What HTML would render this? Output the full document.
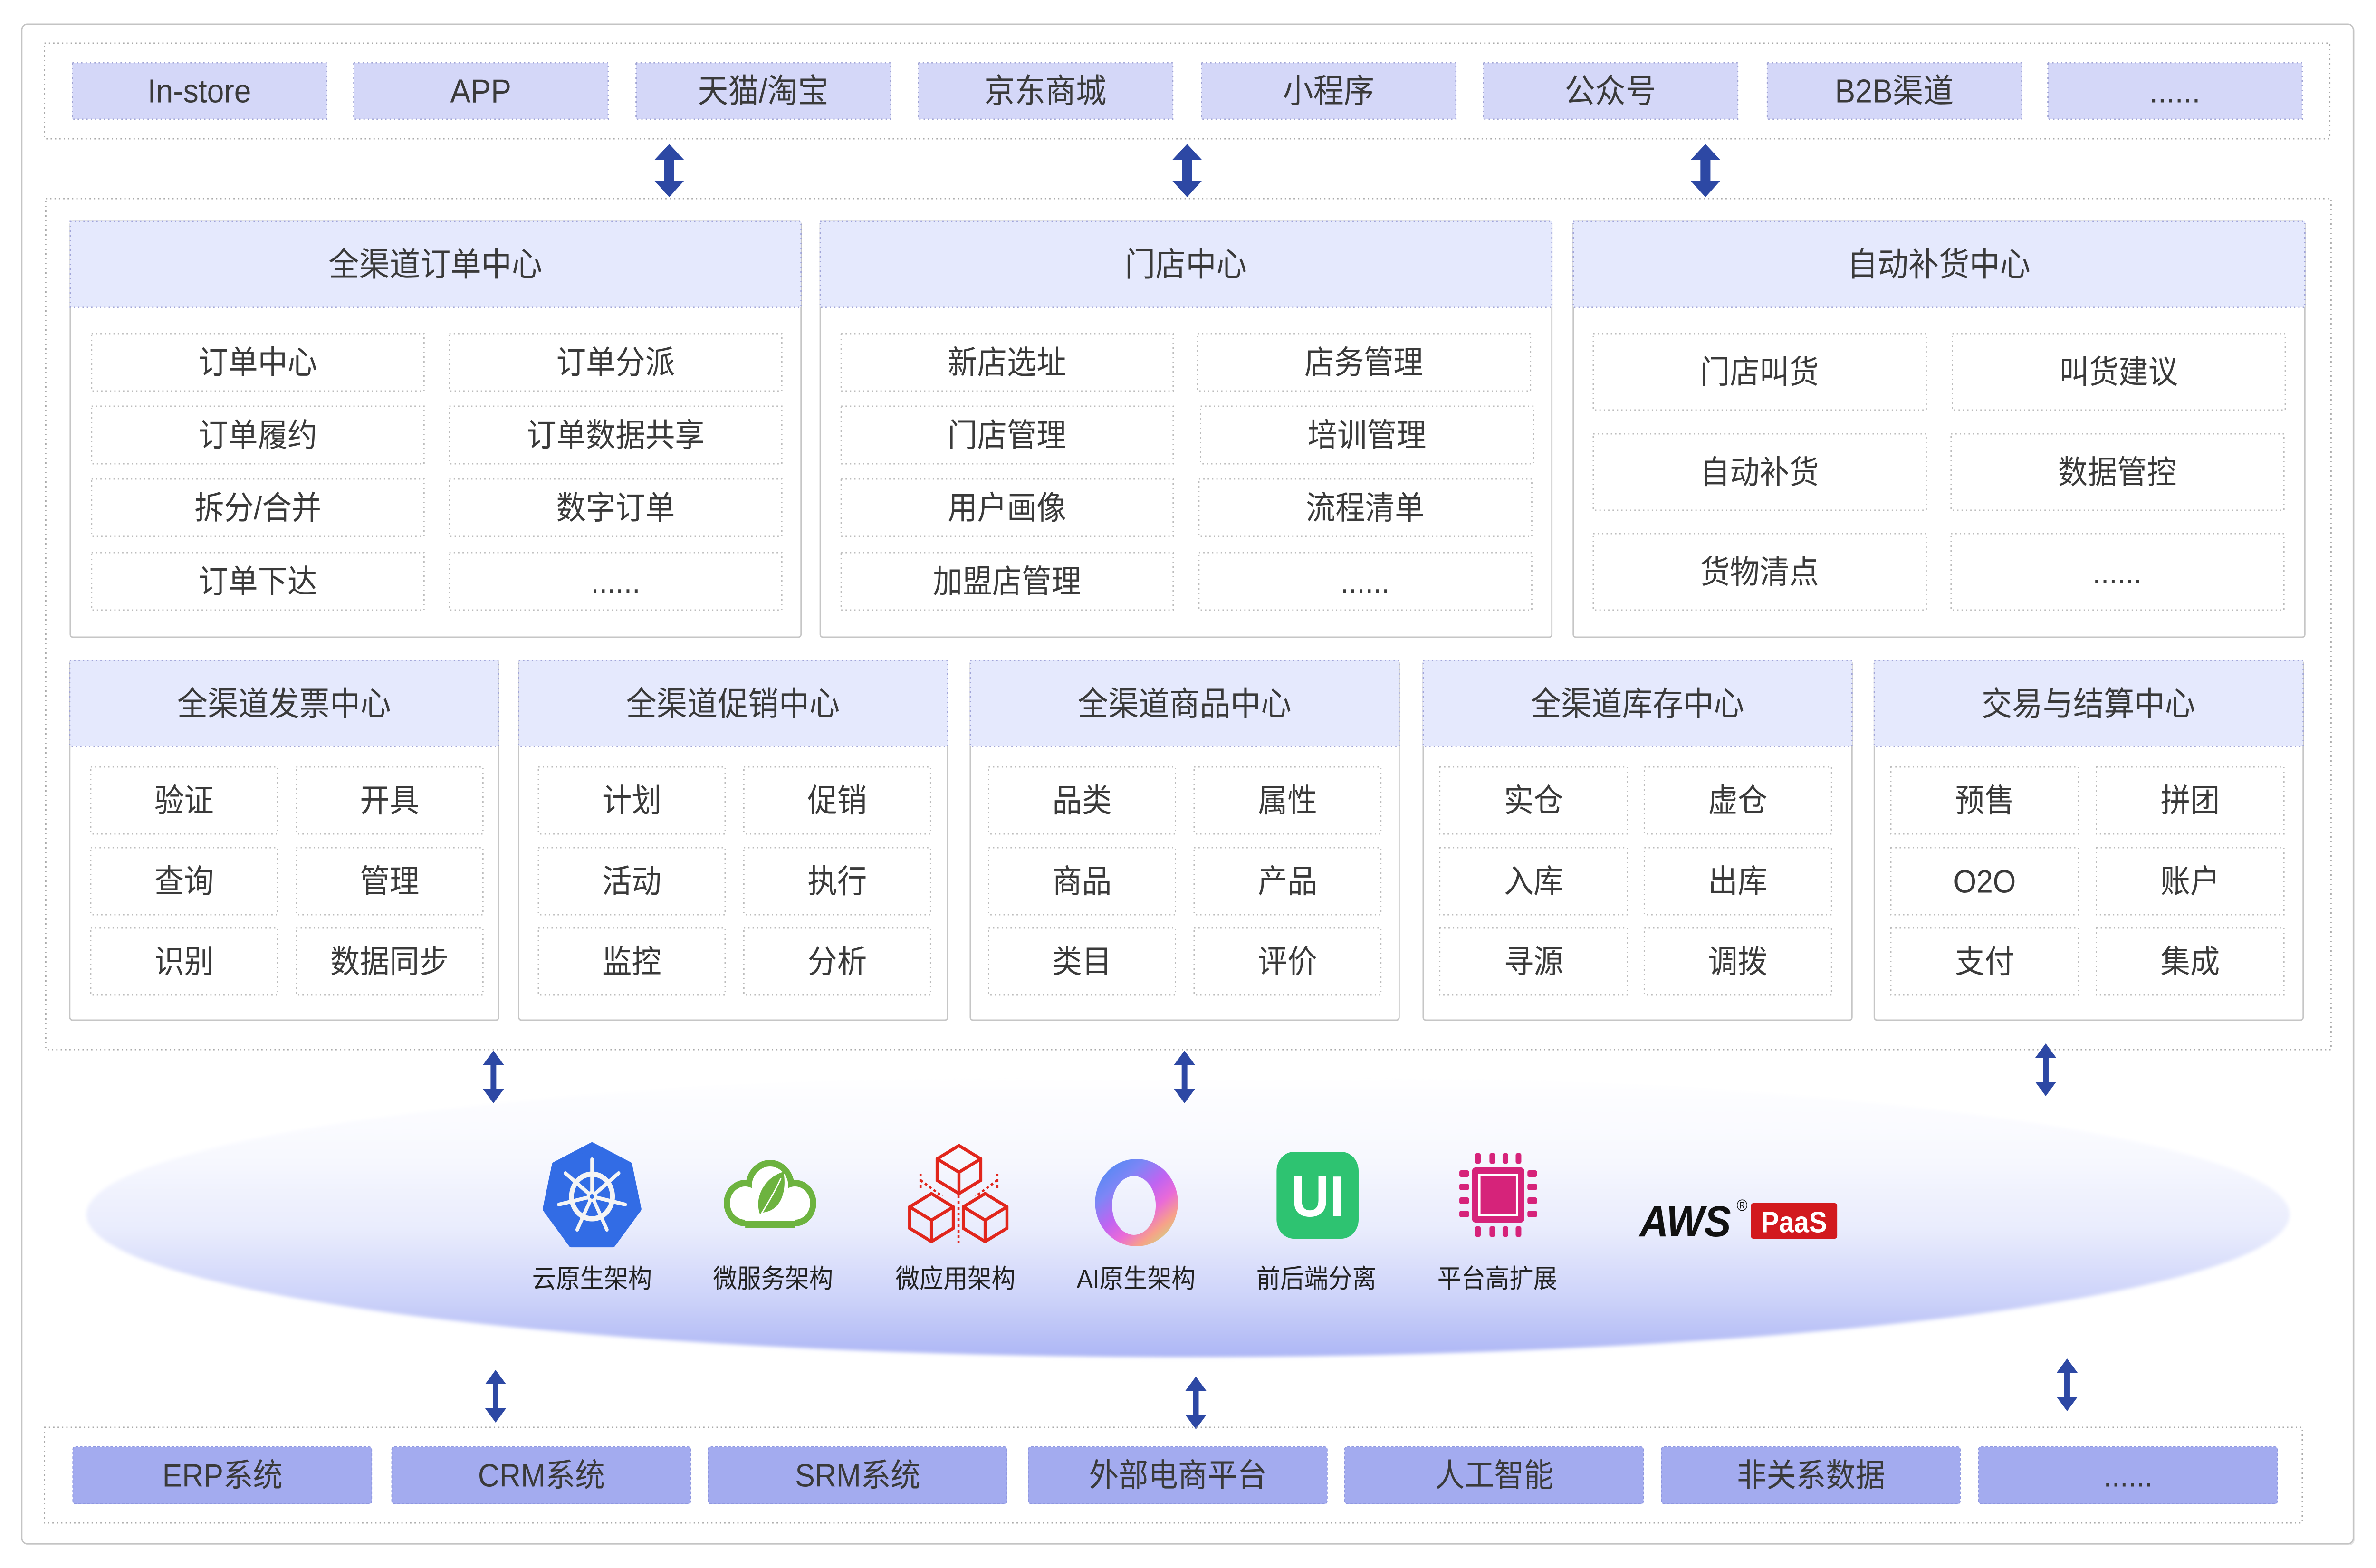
<!DOCTYPE html>
<html><head><meta charset="utf-8"><style>
html,body{margin:0;padding:0;background:#fff;width:100%;height:100%;overflow:hidden;}
svg{display:block;width:100vw;height:100vh;}
.t{font-family:"Liberation Sans","Noto Sans CJK SC",sans-serif;fill:#3a3a3a;text-anchor:middle;dominant-baseline:central;}
.h{font-size:70px;}
.i{font-size:68px;}
.c{font-size:70px;}
.b{font-size:68px;}
.l{font-size:55px;fill:#222;}
.cont{fill:none;stroke:#a9a9a9;stroke-width:3;stroke-dasharray:3 7;}
.chan{fill:#d4d7f8;stroke:#9fa3d3;stroke-width:3;stroke-dasharray:3 7;}
.hdr{fill:#e5e9fd;stroke:#a1a5d8;stroke-width:3;stroke-dasharray:3 7;}
.body{fill:#fff;stroke:#c6c6c6;stroke-width:3;}
.item{fill:#fff;stroke:#bcbcbc;stroke-width:3;stroke-dasharray:3 7;}
.bot{fill:#a3abef;stroke:#8f98e0;stroke-width:2;stroke-dasharray:6 4;}
.arr{fill:#2d48a4;}
</style></head><body>
<svg viewBox="0 0 5446 3300" preserveAspectRatio="none" xmlns="http://www.w3.org/2000/svg">
<defs>
<linearGradient id="eg" x1="0" y1="0" x2="0" y2="1">
<stop offset="0" stop-color="#ffffff"/>
<stop offset="0.3" stop-color="#f7f8fe"/>
<stop offset="0.55" stop-color="#e9ecfd"/>
<stop offset="0.8" stop-color="#ccd2f9"/>
<stop offset="1" stop-color="#adb6f5"/>
</linearGradient>
<filter id="soft" x="-5%" y="-20%" width="110%" height="140%"><feGaussianBlur stdDeviation="4"/></filter>
<linearGradient id="rg" x1="0.1" y1="0.05" x2="0.85" y2="0.95">
<stop offset="0" stop-color="#3b8af2"/>
<stop offset="0.3" stop-color="#7d86f6"/>
<stop offset="0.5" stop-color="#c064f1"/>
<stop offset="0.65" stop-color="#e96ad8"/>
<stop offset="0.8" stop-color="#f7a189"/>
<stop offset="1" stop-color="#b8f07e"/>
</linearGradient>
<mask id="ringm">
<rect x="2480" y="2410" width="250" height="240" fill="#000"/>
<ellipse cx="2605" cy="2531" rx="95" ry="92" fill="#fff"/>
<ellipse cx="2599" cy="2537" rx="50" ry="62" fill="#000"/>
</mask>
<path id="bigArr" d="M0,0 L33.5,33 L11.5,33 L11.5,78 L33.5,78 L0,112 L-33.5,78 L-11.5,78 L-11.5,33 L-33.5,33 Z"/>
<path id="thinArr" d="M0,0 L24,30 L6.5,30 L6.5,81 L24,81 L0,111 L-24,81 L-6.5,81 L-6.5,30 L-24,30 Z"/>
</defs>

<!-- outer frame -->
<rect x="53" y="54" width="5344" height="3198" rx="12" fill="#e6e6e6"/>
<rect x="50" y="51" width="5344" height="3198" rx="12" fill="#fff" stroke="#c4c4c4" stroke-width="3"/>

<!-- top channel container -->
<rect class="cont" x="102" y="91" width="5238" height="201"/>
<g>
<rect class="chan" x="166" y="132" width="583" height="119"/>
<rect class="chan" x="811" y="132" width="583" height="119"/>
<rect class="chan" x="1458" y="132" width="583" height="119"/>
<rect class="chan" x="2105" y="132" width="583" height="119"/>
<rect class="chan" x="2754" y="132" width="583" height="119"/>
<rect class="chan" x="3400" y="132" width="583" height="119"/>
<rect class="chan" x="4051" y="132" width="583" height="119"/>
<rect class="chan" x="4694" y="132" width="583" height="119"/>
<text class="t c" x="457" y="192">In-store</text>
<text class="t c" x="1102" y="192">APP</text>
<text class="t c" x="1749" y="192">天猫/淘宝</text>
<text class="t c" x="2396" y="192">京东商城</text>
<text class="t c" x="3045" y="192">小程序</text>
<text class="t c" x="3691" y="192">公众号</text>
<text class="t c" x="4342" y="192">B2B渠道</text>
<text class="t c" x="4985" y="192">......</text>
</g>

<!-- top arrows -->
<use href="#bigArr" class="arr" transform="translate(1534,303)"/>
<use href="#bigArr" class="arr" transform="translate(2721,303)"/>
<use href="#bigArr" class="arr" transform="translate(3909,303)"/>

<!-- main container -->
<rect class="cont" x="105" y="418" width="5238" height="1791"/>

<!-- P1 -->
<rect class="body" x="161" y="466" width="1675" height="875" rx="6"/>
<rect class="hdr" x="161" y="466" width="1675" height="181"/>
<text class="t h" x="998" y="557">全渠道订单中心</text>
<rect class="item" x="210" y="702" width="762" height="121"/>
<rect class="item" x="1030" y="702" width="762" height="121"/>
<rect class="item" x="210" y="855" width="762" height="121"/>
<rect class="item" x="1030" y="855" width="762" height="121"/>
<rect class="item" x="210" y="1008" width="762" height="121"/>
<rect class="item" x="1030" y="1008" width="762" height="121"/>
<rect class="item" x="210" y="1163" width="762" height="121"/>
<rect class="item" x="1030" y="1163" width="762" height="121"/>
<text class="t i" x="591" y="763">订单中心</text>
<text class="t i" x="1411" y="763">订单分派</text>
<text class="t i" x="591" y="916">订单履约</text>
<text class="t i" x="1411" y="916">订单数据共享</text>
<text class="t i" x="591" y="1069">拆分/合并</text>
<text class="t i" x="1411" y="1069">数字订单</text>
<text class="t i" x="591" y="1224">订单下达</text>
<text class="t i" x="1411" y="1224">......</text>

<!-- P2 -->
<rect class="body" x="1880" y="466" width="1677" height="875" rx="6"/>
<rect class="hdr" x="1880" y="466" width="1677" height="181"/>
<text class="t h" x="2718" y="557">门店中心</text>
<rect class="item" x="1928" y="702" width="761" height="121"/>
<rect class="item" x="2745" y="702" width="763" height="121"/>
<rect class="item" x="1928" y="855" width="761" height="121"/>
<rect class="item" x="2752" y="855" width="763" height="121"/>
<rect class="item" x="1928" y="1008" width="761" height="121"/>
<rect class="item" x="2748" y="1008" width="763" height="121"/>
<rect class="item" x="1928" y="1163" width="761" height="121"/>
<rect class="item" x="2748" y="1163" width="763" height="121"/>
<text class="t i" x="2308" y="763">新店选址</text>
<text class="t i" x="3126" y="763">店务管理</text>
<text class="t i" x="2308" y="916">门店管理</text>
<text class="t i" x="3133" y="916">培训管理</text>
<text class="t i" x="2308" y="1069">用户画像</text>
<text class="t i" x="3129" y="1069">流程清单</text>
<text class="t i" x="2308" y="1224">加盟店管理</text>
<text class="t i" x="3129" y="1224">......</text>

<!-- P3 -->
<rect class="body" x="3606" y="466" width="1677" height="875" rx="6"/>
<rect class="hdr" x="3606" y="466" width="1677" height="181"/>
<text class="t h" x="4444" y="557">自动补货中心</text>
<rect class="item" x="3652" y="702" width="763" height="161"/>
<rect class="item" x="4475" y="702" width="763" height="161"/>
<rect class="item" x="3652" y="913" width="763" height="161"/>
<rect class="item" x="4472" y="913" width="763" height="161"/>
<rect class="item" x="3652" y="1123" width="763" height="161"/>
<rect class="item" x="4472" y="1123" width="763" height="161"/>
<text class="t i" x="4033" y="783">门店叫货</text>
<text class="t i" x="4856" y="783">叫货建议</text>
<text class="t i" x="4033" y="994">自动补货</text>
<text class="t i" x="4853" y="994">数据管控</text>
<text class="t i" x="4033" y="1204">货物清点</text>
<text class="t i" x="4853" y="1204">......</text>

<!-- Row 2 panels -->
<g>
<rect class="body" x="160" y="1390" width="983" height="757" rx="6"/>
<rect class="hdr" x="160" y="1390" width="983" height="181"/>
<text class="t h" x="651" y="1482">全渠道发票中心</text>
<rect class="item" x="208" y="1614" width="428" height="141"/>
<rect class="item" x="679" y="1614" width="428" height="141"/>
<rect class="item" x="208" y="1784" width="428" height="141"/>
<rect class="item" x="679" y="1784" width="428" height="141"/>
<rect class="item" x="208" y="1953" width="428" height="141"/>
<rect class="item" x="679" y="1953" width="428" height="141"/>
<text class="t i" x="422" y="1685">验证</text>
<text class="t i" x="893" y="1685">开具</text>
<text class="t i" x="422" y="1855">查询</text>
<text class="t i" x="893" y="1855">管理</text>
<text class="t i" x="422" y="2024">识别</text>
<text class="t i" x="893" y="2024">数据同步</text>
</g>
<g>
<rect class="body" x="1189" y="1390" width="983" height="757" rx="6"/>
<rect class="hdr" x="1189" y="1390" width="983" height="181"/>
<text class="t h" x="1680" y="1482">全渠道促销中心</text>
<rect class="item" x="1234" y="1614" width="428" height="141"/>
<rect class="item" x="1705" y="1614" width="428" height="141"/>
<rect class="item" x="1234" y="1784" width="428" height="141"/>
<rect class="item" x="1705" y="1784" width="428" height="141"/>
<rect class="item" x="1234" y="1953" width="428" height="141"/>
<rect class="item" x="1705" y="1953" width="428" height="141"/>
<text class="t i" x="1448" y="1685">计划</text>
<text class="t i" x="1919" y="1685">促销</text>
<text class="t i" x="1448" y="1855">活动</text>
<text class="t i" x="1919" y="1855">执行</text>
<text class="t i" x="1448" y="2024">监控</text>
<text class="t i" x="1919" y="2024">分析</text>
</g>
<g>
<rect class="body" x="2224" y="1390" width="983" height="757" rx="6"/>
<rect class="hdr" x="2224" y="1390" width="983" height="181"/>
<text class="t h" x="2715" y="1482">全渠道商品中心</text>
<rect class="item" x="2266" y="1614" width="428" height="141"/>
<rect class="item" x="2737" y="1614" width="428" height="141"/>
<rect class="item" x="2266" y="1784" width="428" height="141"/>
<rect class="item" x="2737" y="1784" width="428" height="141"/>
<rect class="item" x="2266" y="1953" width="428" height="141"/>
<rect class="item" x="2737" y="1953" width="428" height="141"/>
<text class="t i" x="2480" y="1685">品类</text>
<text class="t i" x="2951" y="1685">属性</text>
<text class="t i" x="2480" y="1855">商品</text>
<text class="t i" x="2951" y="1855">产品</text>
<text class="t i" x="2480" y="2024">类目</text>
<text class="t i" x="2951" y="2024">评价</text>
</g>
<g>
<rect class="body" x="3262" y="1390" width="983" height="757" rx="6"/>
<rect class="hdr" x="3262" y="1390" width="983" height="181"/>
<text class="t h" x="3753" y="1482">全渠道库存中心</text>
<rect class="item" x="3300" y="1614" width="430" height="141"/>
<rect class="item" x="3769" y="1614" width="429" height="141"/>
<rect class="item" x="3300" y="1784" width="430" height="141"/>
<rect class="item" x="3769" y="1784" width="429" height="141"/>
<rect class="item" x="3300" y="1953" width="430" height="141"/>
<rect class="item" x="3769" y="1953" width="429" height="141"/>
<text class="t i" x="3515" y="1685">实仓</text>
<text class="t i" x="3983" y="1685">虚仓</text>
<text class="t i" x="3515" y="1855">入库</text>
<text class="t i" x="3983" y="1855">出库</text>
<text class="t i" x="3515" y="2024">寻源</text>
<text class="t i" x="3983" y="2024">调拨</text>
</g>
<g>
<rect class="body" x="4296" y="1390" width="983" height="757" rx="6"/>
<rect class="hdr" x="4296" y="1390" width="983" height="181"/>
<text class="t h" x="4787" y="1482">交易与结算中心</text>
<rect class="item" x="4334" y="1614" width="430" height="141"/>
<rect class="item" x="4805" y="1614" width="430" height="141"/>
<rect class="item" x="4334" y="1784" width="430" height="141"/>
<rect class="item" x="4805" y="1784" width="430" height="141"/>
<rect class="item" x="4334" y="1953" width="430" height="141"/>
<rect class="item" x="4805" y="1953" width="430" height="141"/>
<text class="t i" x="4549" y="1685">预售</text>
<text class="t i" x="5020" y="1685">拼团</text>
<text class="t i" x="4549" y="1855">O2O</text>
<text class="t i" x="5020" y="1855">账户</text>
<text class="t i" x="4549" y="2024">支付</text>
<text class="t i" x="5020" y="2024">集成</text>
</g>

<!-- ellipse -->
<ellipse cx="2723" cy="2556" rx="2525" ry="300" fill="url(#eg)" filter="url(#soft)"/>

<!-- middle arrows -->
<use href="#thinArr" class="arr" transform="translate(1131,2211)"/>
<use href="#thinArr" class="arr" transform="translate(2715,2211)"/>
<use href="#thinArr" class="arr" transform="translate(4689,2196)"/>
<use href="#thinArr" class="arr" transform="translate(1136,2883)"/>
<use href="#thinArr" class="arr" transform="translate(2741,2897)"/>
<use href="#thinArr" class="arr" transform="translate(4738,2859)"/>

<!-- K8s icon -->
<polygon points="1357,2410 1443,2451.4 1464.2,2544.5 1404.7,2619.1 1309.3,2619.1 1249.8,2544.5 1271,2451.4" fill="#326ce5" stroke="#326ce5" stroke-width="12" stroke-linejoin="round"/>
<g stroke="#f4f4f4" fill="none" stroke-linecap="round">
<circle cx="1357" cy="2518" r="47" stroke-width="11"/>
<g stroke-width="8">
<line x1="1357" y1="2518" x2="1357" y2="2440"/>
<line x1="1357" y1="2518" x2="1418" y2="2469"/>
<line x1="1357" y1="2518" x2="1433" y2="2535"/>
<line x1="1357" y1="2518" x2="1391" y2="2588"/>
<line x1="1357" y1="2518" x2="1323" y2="2588"/>
<line x1="1357" y1="2518" x2="1281" y2="2535"/>
<line x1="1357" y1="2518" x2="1296" y2="2469"/>
</g>
</g>
<circle cx="1357" cy="2518" r="12" fill="#f4f4f4"/>
<circle cx="1357" cy="2518" r="5" fill="#326ce5"/>

<!-- Spring cloud -->
<g fill="#6db33f">
<circle cx="1765" cy="2497" r="56"/>
<circle cx="1708" cy="2532" r="49"/>
<circle cx="1822" cy="2532" r="49"/>
<rect x="1708" y="2520" width="114" height="64"/>
</g>
<g fill="#ffffff">
<circle cx="1765" cy="2497" r="42"/>
<circle cx="1708" cy="2532" r="35"/>
<circle cx="1822" cy="2532" r="35"/>
<rect x="1708" y="2520" width="114" height="50"/>
</g>
<path d="M1742,2556 C1728,2520 1752,2478 1796,2466 C1804,2508 1790,2548 1748,2552 Z" fill="#6db33f"/>
<path d="M1740,2562 C1755,2540 1772,2515 1790,2480" stroke="#ffffff" stroke-width="3" fill="none"/>

<!-- red cubes -->
<g fill="none" stroke="#e1261c" stroke-width="7" stroke-linejoin="miter">
<polygon points="2198,2411 2248,2439 2248,2484 2198,2512 2148,2484 2148,2439"/>
<polyline points="2148,2439 2198,2467 2248,2439"/><line x1="2198" y1="2467" x2="2198" y2="2512"/>
<polygon points="2135,2512 2185,2540 2185,2585 2135,2613 2085,2585 2085,2540"/>
<polyline points="2085,2540 2135,2568 2185,2540"/><line x1="2135" y1="2568" x2="2135" y2="2613"/>
<polygon points="2258,2512 2308,2540 2308,2585 2258,2613 2208,2585 2208,2540"/>
<polyline points="2208,2540 2258,2568 2308,2540"/><line x1="2258" y1="2568" x2="2258" y2="2613"/>
</g>
<g stroke="#e1261c" stroke-width="5" stroke-dasharray="6 6" fill="none">
<line x1="2197" y1="2516" x2="2197" y2="2615"/>
<line x1="2110" y1="2484" x2="2160" y2="2518"/>
<line x1="2286" y1="2484" x2="2236" y2="2518"/>
<line x1="2110" y1="2470" x2="2110" y2="2500"/>
<line x1="2286" y1="2470" x2="2286" y2="2500"/>
</g>

<!-- AI ring -->
<rect x="2490" y="2420" width="230" height="220" fill="url(#rg)" mask="url(#ringm)"/>

<!-- UI icon -->
<rect x="2926" y="2424" width="188" height="183" rx="40" fill="#2ec371"/>
<text x="3020" y="2518" style="font-family:'Liberation Sans',sans-serif;font-weight:bold;font-size:122px;fill:#fff;text-anchor:middle;dominant-baseline:central;">UI</text>

<!-- chip -->
<g fill="#d6237a">
<rect x="3374" y="2457" width="120" height="116" rx="8"/>
<rect x="3381" y="2427" width="13" height="22" rx="4"/>
<rect x="3414" y="2427" width="13" height="22" rx="4"/>
<rect x="3444" y="2427" width="13" height="22" rx="4"/>
<rect x="3474" y="2427" width="13" height="22" rx="4"/>
<rect x="3381" y="2581" width="13" height="22" rx="4"/>
<rect x="3414" y="2581" width="13" height="22" rx="4"/>
<rect x="3444" y="2581" width="13" height="22" rx="4"/>
<rect x="3474" y="2581" width="13" height="22" rx="4"/>
<rect x="3345" y="2463" width="22" height="14" rx="4"/>
<rect x="3345" y="2491" width="22" height="14" rx="4"/>
<rect x="3345" y="2520" width="22" height="14" rx="4"/>
<rect x="3345" y="2548" width="22" height="14" rx="4"/>
<rect x="3501" y="2463" width="22" height="14" rx="4"/>
<rect x="3501" y="2491" width="22" height="14" rx="4"/>
<rect x="3501" y="2520" width="22" height="14" rx="4"/>
<rect x="3501" y="2548" width="22" height="14" rx="4"/>
</g>
<rect x="3391" y="2473" width="86" height="84" fill="none" stroke="#fff" stroke-width="5"/>

<!-- AWS PaaS -->
<text x="3758" y="2602" style="font-family:'Liberation Sans',sans-serif;font-weight:bold;font-style:italic;font-size:92px;fill:#111;">AWS</text>
<text x="3993" y="2548" style="font-family:'Liberation Sans',sans-serif;font-size:34px;fill:#111;text-anchor:middle;">®</text>
<rect x="4013" y="2532" width="198" height="75" rx="6" fill="#d2191e"/>
<text x="4112" y="2572" style="font-family:'Liberation Sans',sans-serif;font-weight:bold;font-size:62px;fill:#fff;text-anchor:middle;dominant-baseline:central;">PaaS</text>

<!-- icon labels -->
<text class="t l" x="1357" y="2692">云原生架构</text>
<text class="t l" x="1772" y="2692">微服务架构</text>
<text class="t l" x="2190" y="2692">微应用架构</text>
<text class="t l" x="2604" y="2692">AI原生架构</text>
<text class="t l" x="3017" y="2692">前后端分离</text>
<text class="t l" x="3432" y="2692">平台高扩展</text>

<!-- bottom container -->
<rect class="cont" x="102" y="3004" width="5175" height="201"/>
<rect class="bot" x="167" y="3045" width="685" height="120" rx="6"/>
<rect class="bot" x="898" y="3045" width="685" height="120" rx="6"/>
<rect class="bot" x="1623" y="3045" width="685" height="120" rx="6"/>
<rect class="bot" x="2357" y="3045" width="685" height="120" rx="6"/>
<rect class="bot" x="3082" y="3045" width="685" height="120" rx="6"/>
<rect class="bot" x="3808" y="3045" width="685" height="120" rx="6"/>
<rect class="bot" x="4535" y="3045" width="685" height="120" rx="6"/>
<text class="t b" x="510" y="3105">ERP系统</text>
<text class="t b" x="1241" y="3105">CRM系统</text>
<text class="t b" x="1966" y="3105">SRM系统</text>
<text class="t b" x="2700" y="3105">外部电商平台</text>
<text class="t b" x="3425" y="3105">人工智能</text>
<text class="t b" x="4151" y="3105">非关系数据</text>
<text class="t b" x="4878" y="3105">......</text>
</svg>
</body></html>
